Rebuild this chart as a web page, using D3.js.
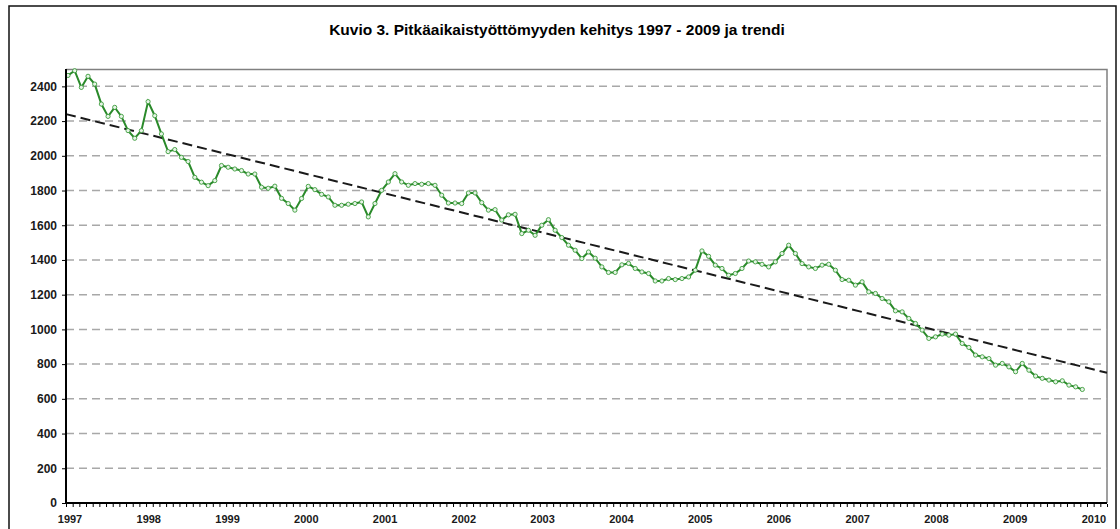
<!DOCTYPE html>
<html>
  <head>
    <title>Kuvio 3</title>
    <script src="https://d3js.org/d3.v7.min.js"></script>
    <style>
      body { margin: 0; background: #fff; }
      svg { display: block; font-family: Arial, "Liberation Sans", sans-serif; }
      .axis text { font-weight: bold; fill: #1a1a1a; }
      .axis--y text { font-size: 12px; }
      .axis--x text { font-size: 11px; }
      .axis .domain { stroke: #000; stroke-width: 2px; }
      .axis .tick line { stroke: #000; }
      .grid line { stroke: #a8a8a8; stroke-width: 1.5px; stroke-dasharray: 8,5; }
      .title { font-size: 15.5px; font-weight: bold; text-anchor: middle; fill: #000; }
    </style>
  </head>
  <body>
    <svg width="1120" height="529"></svg>
    <script>
      // monthly values, Jan 1997 ->
      const startYear = 1997;
      const values = [
        2463, 2490, 2394, 2458, 2413, 2298, 2227, 2279, 2227, 2145, 2101, 2145,
        2312, 2231, 2126, 2024, 2036, 1991, 1967, 1876, 1848, 1828, 1857, 1944,
        1934, 1924, 1915, 1895, 1895, 1819, 1813, 1825, 1755, 1725, 1687, 1754,
        1824, 1805, 1778, 1763, 1715, 1715, 1721, 1725, 1734, 1648, 1725, 1801,
        1849, 1897, 1849, 1830, 1840, 1836, 1840, 1830, 1773, 1728, 1728, 1725,
        1786, 1786, 1730, 1687, 1690, 1630, 1660, 1663, 1552, 1571, 1542, 1600,
        1632, 1571, 1529, 1485, 1456, 1408, 1446, 1410, 1360, 1328, 1328, 1372,
        1380, 1351, 1331, 1322, 1279, 1279, 1293, 1287, 1293, 1302, 1341, 1452,
        1421, 1370, 1351, 1312, 1322, 1351, 1394, 1389, 1375, 1360, 1389, 1437,
        1485, 1437, 1379, 1360, 1351, 1370, 1375, 1341, 1287, 1283, 1255, 1274,
        1216, 1207, 1178, 1159, 1107, 1101, 1063, 1034, 996, 948, 957, 973,
        967, 973, 919, 896, 852, 842, 832, 794, 804, 784, 756, 804,
        765, 731, 718, 708, 698, 704, 679, 669, 654
      ];
      const trendYears = [1997, 2010];
      const trendValues = [2240, 750];
      const yearTicks = d3.range(1997, 2011);
      const yTicks = d3.range(0, 2401, 200);
      const title = "Kuvio 3. Pitkäaikaistyöttömyyden kehitys 1997 - 2009 ja trendi";

      const svg = d3.select("svg");
      const width = +svg.attr("width");
      const height = +svg.attr("height");
      const margin = {top: 69, right: 13, bottom: 26, left: 66};
      const innerWidth = width - margin.left - margin.right;
      const innerHeight = height - margin.top - margin.bottom;

      // outer frame (its bottom edge runs off the picture)
      svg.append("path")
        .attr("d", "M9,529V6H1116V529")
        .attr("fill", "none")
        .attr("stroke", "#111")
        .attr("stroke-width", 1.5);

      svg.append("text")
        .attr("class", "title")
        .attr("x", 557)
        .attr("y", 35)
        .text(title);

      const xScale = d3.scaleLinear().domain([1997, 2010]).range([0, innerWidth]);
      const yScale = d3.scaleLinear().domain([0, 2500]).range([innerHeight, 0]);
      // year labels sit a little off their ticks in the original
      const labelScale = d3.scaleLinear().domain([1997, 2010]).range([4, innerWidth - 13]);

      const g = svg.append("g")
        .attr("transform", `translate(${margin.left}, ${margin.top})`);

      // plot frame (top + right)
      g.append("path")
        .attr("d", `M0,0.5H${innerWidth}V${innerHeight}`)
        .attr("fill", "none")
        .attr("stroke", "#808080")
        .attr("stroke-width", 1.5);

      g.append("g")
        .attr("class", "grid")
        .selectAll("line")
        .data(yTicks.filter(d => d > 0))
        .join("line")
          .attr("x1", 0)
          .attr("x2", innerWidth)
          .attr("y1", d => yScale(d))
          .attr("y2", d => yScale(d));

      // trend
      const line = d3.line()
        .x(d => xScale(d[0]))
        .y(d => yScale(d[1]));

      g.append("path")
        .datum(trendYears.map((y, i) => [y, trendValues[i]]))
        .attr("fill", "none")
        .attr("stroke", "#1a1a1a")
        .attr("stroke-width", 2)
        .attr("stroke-dasharray", "10,5")
        .attr("d", line);

      const series = values.map((v, i) => [startYear + (i + 0.3) / 12, v]);

      g.append("path")
        .datum(series)
        .attr("fill", "none")
        .attr("stroke", "#2a8a2a")
        .attr("stroke-width", 2)
        .attr("d", line);

      g.append("g")
        .selectAll("circle")
        .data(series)
        .join("circle")
          .attr("cx", d => xScale(d[0]))
          .attr("cy", d => yScale(d[1]))
          .attr("r", 2.1)
          .attr("fill", "#e6f4e6")
          .attr("stroke", "#3c9c3c")
          .attr("stroke-width", 0.9);

      // y axis
      const yAxis = d3.axisLeft(yScale)
        .tickValues(yTicks)
        .tickSize(4)
        .tickPadding(5)
        .tickFormat(d3.format("d"));
      g.append("g")
        .attr("class", "axis axis--y")
        .call(yAxis)
        .call(s => s.select(".domain").attr("d", `M0,0V${innerHeight}`));

      // x axis with monthly minor ticks
      const months = d3.range(0, 13 * 12 + 1).map(m => 1997 + m / 12);
      const xAxis = d3.axisBottom(xScale)
        .tickValues(months)
        .tickSize(3);
      g.append("g")
        .attr("class", "axis axis--x")
        .attr("transform", `translate(0, ${innerHeight})`)
        .call(xAxis)
        .call(s => s.selectAll(".tick text").remove())
        .call(s => s.select(".domain").attr("d", `M-1,0H${innerWidth}`))
        .call(s => s.selectAll(".tick line").attr("y1", 1).attr("y2", 4));

      g.append("g")
        .attr("class", "axis axis--x")
        .selectAll("text")
        .data(yearTicks)
        .join("text")
          .attr("x", d => labelScale(d))
          .attr("y", innerHeight + 20)
          .attr("text-anchor", "middle")
          .text(d => d);
    </script>
  </body>
</html>
